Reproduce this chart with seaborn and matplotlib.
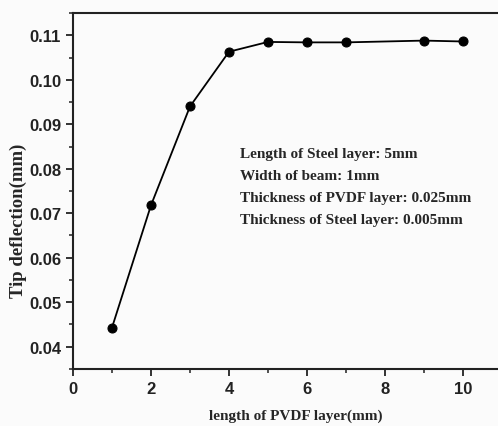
import numpy as np
import pandas as pd
import matplotlib.pyplot as plt
import seaborn as sns
from matplotlib.ticker import MultipleLocator

# dados
comprimento_pvdf = [1, 2, 3, 4, 5, 6, 7, 9, 10]
deflexao = [0.0443, 0.0718, 0.0940, 0.1063, 0.1085, 0.1084, 0.1084, 0.1088, 0.1086]

notas = ["Length of Steel layer: 5mm",
         "Width of beam: 1mm",
         "Thickness of PVDF layer: 0.025mm",
         "Thickness of Steel layer: 0.005mm"]

df = pd.DataFrame({'x': comprimento_pvdf, 'y': deflexao})

sns.set_style('ticks')
plt.rcParams['font.family'] = ['Liberation Sans', 'DejaVu Sans']

fig = plt.figure(figsize=(4.98, 4.27), dpi=100, facecolor='#fbfbfb')
ax = fig.add_axes([0.1466, 0.1335, 0.8614, 0.8337])
ax.set_facecolor('#fbfbfb')

sns.lineplot(data=df, x='x', y='y', ax=ax, color='black', linewidth=1.3,
             marker='o', markersize=6.5, markeredgecolor='black')

ax.set_xlim(0, 11)
ax.set_ylim(0.035, 0.115)
ax.xaxis.set_major_locator(MultipleLocator(2))
ax.xaxis.set_minor_locator(MultipleLocator(1))
ax.yaxis.set_minor_locator(MultipleLocator(0.005))
ax.set_yticks(np.arange(0.04, 0.1101, 0.01))
ax.set_yticklabels([f'{v:.2f}' for v in np.arange(0.04, 0.1101, 0.01)])

for s in ['left', 'bottom', 'top']:
    ax.spines[s].set_linewidth(1.5)
    ax.spines[s].set_color('#222222')
ax.spines['right'].set_visible(False)
ax.tick_params(which='major', length=5, width=1.3, labelsize=12, colors='#222222')
ax.tick_params(which='minor', length=3, width=1.1, colors='#222222')
for lab in ax.get_xticklabels() + ax.get_yticklabels():
    lab.set_fontweight('bold')

serif = ['Liberation Serif', 'DejaVu Serif']
ax.set_xlabel('length of PVDF layer(mm)', family=serif, fontweight='bold', fontsize=11)
ax.set_ylabel('Tip deflection(mm)', family=serif, fontweight='bold', fontsize=13.5)
ax.xaxis.set_label_coords(0.52, -0.112)
ax.yaxis.set_label_coords(-0.108, 0.42)

for i, t in enumerate(notas):
    ax.text(0.39, 0.605 - i * 0.062, t, transform=ax.transAxes, family=serif,
            fontweight='bold', fontsize=11, va='center', ha='left')

plt.savefig('out.png', dpi=100, facecolor=fig.get_facecolor())
